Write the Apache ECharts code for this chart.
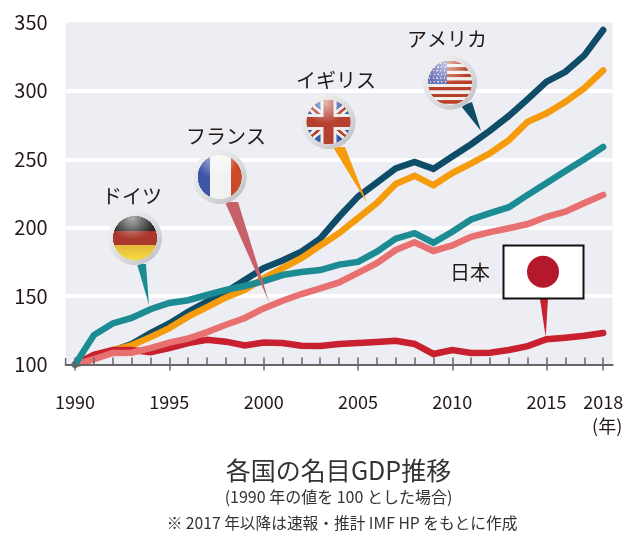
<!DOCTYPE html>
<html>
<head>
<meta charset="utf-8">
<style>
  html, body { margin: 0; padding: 0; background: #fff; }
  #main { width: 640px; height: 552px; }
</style>
<script src="https://cdn.jsdelivr.net/npm/echarts@6/dist/echarts.min.js"></script>
</head>
<body>
<div id="main"></div>
<script>
var years = ['1990', '1991', '1992', '1993', '1994', '1995', '1996', '1997', '1998', '1999',
  '2000', '2001', '2002', '2003', '2004', '2005', '2006', '2007', '2008', '2009',
  '2010', '2011', '2012', '2013', '2014', '2015', '2016', '2017', '2018']
var labelYears = ['1990', '1995', '2000', '2005', '2010', '2015', '2018']

var usa = [100, 104, 110, 115, 123, 130, 138.6, 146, 153, 161.7,
  170.5, 176, 182.5, 192, 208, 222.7, 233, 243.4, 248, 243,
  252, 261, 271, 281.7, 294, 306.7, 314, 326, 344.5]
var uk = [100, 104, 110.6, 114, 120, 126.6, 135, 142, 149, 154.5,
  163, 170.5, 177.7, 187, 196, 207, 218, 232, 238, 231,
  240, 247, 254.4, 264, 277.5, 283.6, 292, 302, 315]
var germany = [100, 121.5, 130, 134, 140.4, 145, 147, 150.8, 154.5, 157.4,
  161, 165.4, 167.6, 169, 173, 175, 182.5, 192, 196, 189,
  197, 206, 210.6, 215, 224, 232.7, 241.4, 250, 259]
var france = [100, 104, 108.4, 108.6, 112, 116, 119, 123.7, 129, 134,
  141, 146.6, 151.5, 155.7, 160, 167, 174, 183.7, 189.4, 183,
  187, 193.4, 196.8, 199.6, 202.7, 208, 211.7, 218, 224]
var japan = [100, 107, 110.6, 110.6, 109, 112, 115.7, 118, 116.7, 114,
  116, 115.7, 113.7, 113.5, 115, 115.7, 116.4, 117.4, 115, 107.7,
  110.6, 108.4, 108.6, 110.6, 113.4, 118.5, 119.6, 121, 123]

var fontName = '"Noto Sans CJK JP", "Noto Sans", sans-serif'

// flags are painted on small canvases and handed to the graphic component
function makeFlag (paint) {
  var s = 3
  var r = 27
  var c = document.createElement('canvas')
  c.width = c.height = r * 2 * s
  var ctx = c.getContext('2d')
  ctx.scale(s, s)
  ctx.translate(r, r)
  var ring = ctx.createLinearGradient(-r, -r, r, r)
  ring.addColorStop(0, '#f6f6f6')
  ring.addColorStop(0.55, '#dcdcde')
  ring.addColorStop(1, '#bcbcc0')
  ctx.fillStyle = ring
  ctx.beginPath()
  ctx.arc(0, 0, r, 0, Math.PI * 2)
  ctx.fill()
  ctx.save()
  ctx.beginPath()
  ctx.arc(0, 0, 22, 0, Math.PI * 2)
  ctx.clip()
  paint(ctx)
  // gloss on top of the flag
  var gloss = ctx.createRadialGradient(-3, -20, 1, -3, -20, 22)
  gloss.addColorStop(0, 'rgba(255,255,255,0.6)')
  gloss.addColorStop(1, 'rgba(255,255,255,0)')
  ctx.fillStyle = gloss
  ctx.fillRect(-22, -22, 44, 44)
  ctx.restore()
  return c
}

var germanyFlag = makeFlag(function (ctx) {
  ctx.fillStyle = '#2b2b2b'
  ctx.fillRect(-22, -22, 44, 15)
  ctx.fillStyle = '#a9372b'
  ctx.fillRect(-22, -7, 44, 14)
  var low = ctx.createLinearGradient(0, 7, 0, 22)
  low.addColorStop(0, '#e4b93a')
  low.addColorStop(1, '#f6dc3e')
  ctx.fillStyle = low
  ctx.fillRect(-22, 7, 44, 15)
})

var franceFlag = makeFlag(function (ctx) {
  ctx.fillStyle = '#f2f2f2'
  ctx.fillRect(-22, -22, 44, 44)
  ctx.fillStyle = '#3f55a5'
  ctx.fillRect(-22, -22, 12, 44)
  ctx.fillStyle = '#cb4a2a'
  ctx.fillRect(11, -22, 11, 44)
})

var ukFlag = makeFlag(function (ctx) {
  ctx.fillStyle = '#3a5ba8'
  ctx.fillRect(-22, -22, 44, 44)
  ctx.strokeStyle = '#ececec'
  ctx.lineWidth = 8
  ctx.beginPath()
  ctx.moveTo(-24, -20); ctx.lineTo(24, 20)
  ctx.moveTo(-24, 20); ctx.lineTo(24, -20)
  ctx.stroke()
  ctx.strokeStyle = '#b5402f'
  ctx.lineWidth = 2.5
  ctx.stroke()
  ctx.fillStyle = '#ececec'
  ctx.fillRect(-22, -8, 44, 16)
  ctx.fillRect(-8, -22, 16, 44)
  ctx.fillStyle = '#b5402f'
  ctx.fillRect(-22, -5, 44, 10)
  ctx.fillRect(-5, -22, 10, 44)
})

var usaFlag = makeFlag(function (ctx) {
  ctx.fillStyle = '#f0eeea'
  ctx.fillRect(-22, -22, 44, 44)
  ctx.fillStyle = '#b8402a'
  for (var i = 0; i < 7; i++) {
    ctx.fillRect(-22, -22 + i * 6.6, 44, 3.3)
  }
  ctx.fillStyle = '#6c74b8'
  ctx.fillRect(-22, -22, 19, 23)
  ctx.fillStyle = '#e6e6f4'
  for (var x = 0; x < 5; x++) {
    for (var y = 0; y < 6; y++) {
      ctx.fillRect(-21 + x * 3.7 + (y % 2), -20 + y * 3.7, 1.3, 1.3)
    }
  }
})

function pointer (points, color) {
  return { type: 'polygon', z: 10, shape: { points: points }, style: { fill: color } }
}

function flagImage (canvas, cx, cy) {
  return { type: 'image', z: 11, style: { image: canvas, x: cx - 27, y: cy - 27, width: 54, height: 54 } }
}

function countryLabel (text, x, y) {
  return {
    type: 'text', z: 12, x: x, y: y,
    style: { text: text, font: '20px ' + fontName, fill: '#231815', align: 'center', verticalAlign: 'middle' }
  }
}

function caption (text, x, y, size) {
  return {
    type: 'text', z: 12, x: x, y: y,
    style: { text: text, font: size + 'px ' + fontName, fill: '#333', align: 'center', verticalAlign: 'middle' }
  }
}

function lineSeries (name, values, color) {
  return {
    name: name,
    type: 'line',
    data: values,
    symbol: 'none',
    silent: true,
    clip: false,
    lineStyle: { color: color, width: 6.5, cap: 'round', join: 'miter' }
  }
}

var myChart = echarts.init(document.getElementById('main'))
var option = {
  backgroundColor: '#fff',
  animation: false,
  textStyle: { fontFamily: fontName },
  grid: {
    show: true,
    left: 65.6,
    top: 22.5,
    width: 547,
    height: 342,
    borderWidth: 0,
    backgroundColor: '#edeef3'
  },
  xAxis: [
    {
      type: 'category',
      data: years,
      z: 4,
      axisLine: { show: true, onZero: false, lineStyle: { color: '#666', width: 2 } },
      axisTick: {
        show: true,
        alignWithLabel: true,
        length: 6,
        lineStyle: { color: '#666', width: 1.5 },
        interval: function (i, v) { return labelYears.indexOf(v) >= 0 }
      },
      axisLabel: {
        margin: 26,
        fontSize: 18,
        color: '#231815',
        lineHeight: 24,
        verticalAlign: 'top',
        interval: function (i, v) { return labelYears.indexOf(v) >= 0 },
        formatter: function (v) { return v === '2018' ? v + '\n  (年)' : v }
      }
    },
    {
      type: 'category',
      data: years,
      position: 'bottom',
      z: 4,
      axisLine: { show: false, onZero: false },
      axisLabel: { show: false },
      axisTick: {
        show: true,
        alignWithLabel: true,
        inside: true,
        length: 7,
        interval: 0,
        lineStyle: { color: '#666', width: 1.5 }
      }
    }
  ],
  yAxis: {
    type: 'value',
    min: 100,
    max: 350,
    interval: 50,
    axisLine: { show: false },
    axisTick: { show: false },
    axisLabel: { margin: 18, fontSize: 20, color: '#231815' },
    splitLine: { show: true, showMaxLine: false, showMinLine: false, lineStyle: { color: '#fff', width: 4 } }
  },
  series: [
    lineSeries('アメリカ', usa, '#0f4c68'),
    lineSeries('イギリス', uk, '#f59b0c'),
    lineSeries('日本', japan, '#c8202f'),
    lineSeries('フランス', france, '#e87070'),
    lineSeries('ドイツ', germany, '#1c8c94')
  ],
  graphic: [
    { type: 'line', z: 5, shape: { x1: 65.6, y1: 358, x2: 65.6, y2: 365 }, style: { stroke: '#666', lineWidth: 1.5 } },

    pointer([[137, 264], [146, 264], [149, 305]], '#1c8c94'),
    pointer([[225, 202], [238, 202], [269, 302]], '#c8606a'),
    pointer([[333, 147], [345, 147], [367, 203]], '#f59b0c'),
    pointer([[461, 106], [472, 102], [481, 131]], '#0f4c68'),
    pointer([[540, 299], [548, 299], [545.7, 337]], '#c8202f'),

    flagImage(germanyFlag, 135, 238),
    flagImage(franceFlag, 219.7, 177),
    flagImage(ukFlag, 328.5, 122),
    flagImage(usaFlag, 450, 82.7),

    { type: 'rect', z: 11, shape: { x: 503.5, y: 245.5, width: 80, height: 53 }, style: { fill: '#fff', stroke: '#111', lineWidth: 2 } },
    { type: 'circle', z: 12, shape: { cx: 543, cy: 271.7, r: 16 }, style: { fill: '#b5182b' } },

    countryLabel('ドイツ', 132, 196),
    countryLabel('フランス', 226, 136),
    countryLabel('イギリス', 336, 80),
    countryLabel('アメリカ', 447, 39),
    countryLabel('日本', 470, 272),

    caption('各国の名目GDP推移', 338.5, 470, 25),
    caption('(1990 年の値を 100 とした場合)', 338.5, 497, 16),
    caption('※ 2017 年以降は速報・推計 IMF HP をもとに作成', 342, 523, 15.7)
  ]
}
option && myChart.setOption(option)
</script>
</body>
</html>
